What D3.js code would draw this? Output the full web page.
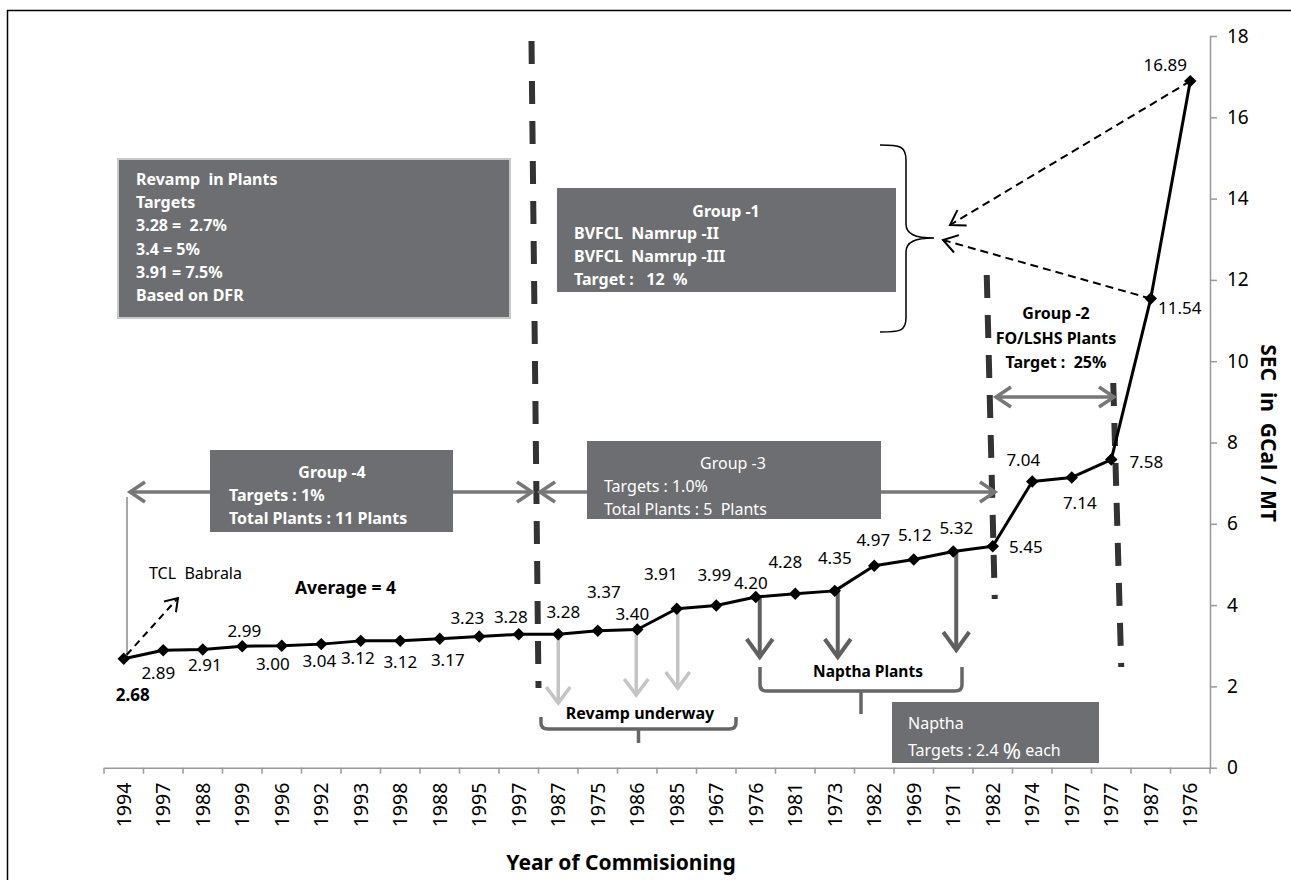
<!DOCTYPE html>
<head>
    <meta charset="utf-8">
    <title>SEC by Year of Commisioning</title>
    <script src="https://d3js.org/d3.v7.min.js"></script>
    <style>
        body { margin: 0; background: #fff; }
        text { font-family: 'Noto Sans', sans-serif; white-space: pre; }
    </style>
</head>
<body>
<script>
    // plants, ordered by SEC
    var years = ["1994", "1997", "1988", "1999", "1996", "1992", "1993", "1998", "1988", "1995",
        "1997", "1987", "1975", "1986", "1985", "1967", "1976", "1981", "1973", "1982",
        "1969", "1971", "1982", "1974", "1977", "1977", "1987", "1976"];
    var sec = [2.68, 2.89, 2.91, 2.99, 3.00, 3.04, 3.12, 3.12, 3.17, 3.23,
        3.28, 3.28, 3.37, 3.40, 3.91, 3.99, 4.20, 4.28, 4.35, 4.97,
        5.12, 5.32, 5.45, 7.04, 7.14, 7.58, 11.54, 16.89];
    var yTicks = [0, 2, 4, 6, 8, 10, 12, 14, 16, 18];

    // where each value label sits relative to its point (px)
    var labelOffsets = [[9, 36], [-5, 22], [2, 15], [2, -16], [-9, 18], [-2, 16], [-3, 17], [0, 21], [8, 21], [-12, -19],
        [-8, -18], [5, -23], [6, -39], [-5, -16], [-16, -35], [-2, -31], [-5, -14], [-10, -32], [0, -33], [-1, -26],
        [1, -25], [3, -24], [33, 0], [-9, -22], [8, 25], [35, 2], [29, 9], [-25, -17]];

    var width = 1291, height = 888;

    var svg = d3.select("body").append("svg")
        .attr("width", width)
        .attr("height", height);

    // frame (top + left edge)
    svg.append("path").attr("d", "M7.5,880 V10.5 H1291")
        .attr("fill", "none").attr("stroke", "#000").attr("stroke-width", 1.5);

    var x = d3.scaleBand().domain(d3.range(sec.length)).range([104, 1210]);
    var y = d3.scaleLinear().domain([0, 18]).range([767.7, 36]);
    var cx = function (i) { return x(i) + x.bandwidth() / 2; };

    // ---- axes ----
    var xAxis = svg.append("g").attr("transform", "translate(0," + y(0) + ")")
        .call(d3.axisBottom(x).tickSize(0).tickSizeOuter(0).tickFormat(function (i) { return years[i]; }));
    xAxis.select(".domain").attr("stroke", "#999").attr("stroke-width", 1.5);
    xAxis.selectAll("text")
        .attr("transform", "rotate(-90)")
        .attr("text-anchor", "end")
        .attr("x", -15).attr("y", 0).attr("dy", "0.35em")
        .attr("font-size", 19.5).attr("fill", "#000")
        .style("font-family", "'Noto Sans', sans-serif");
    xAxis.selectAll(".bound").data(d3.range(sec.length + 1)).enter().append("line")
        .attr("x1", function (k) { return x.range()[0] + k * x.step(); })
        .attr("x2", function (k) { return x.range()[0] + k * x.step(); })
        .attr("y1", 0).attr("y2", 6)
        .attr("stroke", "#999").attr("stroke-width", 1.5);

    var yAxis = svg.append("g").attr("transform", "translate(1210,0)")
        .call(d3.axisRight(y).tickValues(yTicks).tickSize(7).tickSizeOuter(0).tickPadding(10));
    yAxis.select(".domain").attr("stroke", "#999").attr("stroke-width", 1.5);
    yAxis.selectAll(".tick line").attr("stroke", "#999").attr("stroke-width", 1.5);
    yAxis.selectAll("text").attr("font-size", 19).attr("fill", "#000")
        .style("font-family", "'Noto Sans', sans-serif");

    svg.append("text").attr("x", 621).attr("y", 870).attr("text-anchor", "middle")
        .attr("font-size", 21).attr("font-weight", "bold").text("Year of Commisioning");
    svg.append("text").attr("transform", "translate(1261,433) rotate(90)").attr("text-anchor", "middle")
        .attr("font-size", 21).attr("font-weight", "bold").text("SEC  in  GCal / MT");

    // ---- helpers ----
    function head(g, tx, ty, ang, len, half, color, w) {
        var ca = Math.cos(ang), sa = Math.sin(ang);
        var bx = tx - len * ca, by = ty - len * sa;
        g.append("path")
            .attr("d", "M" + (bx - half * sa) + "," + (by + half * ca) + "L" + tx + "," + ty + "L" + (bx + half * sa) + "," + (by - half * ca))
            .attr("fill", "none").attr("stroke", color).attr("stroke-width", w)
            .attr("stroke-linejoin", "miter").attr("stroke-linecap", "butt");
    }

    function arrow(x1, y1, x2, y2, o) {
        var g = svg.append("g");
        g.append("line").attr("x1", x1).attr("y1", y1).attr("x2", x2).attr("y2", y2)
            .attr("stroke", o.color).attr("stroke-width", o.w)
            .attr("stroke-dasharray", o.dash || null);
        var a = Math.atan2(y2 - y1, x2 - x1);
        head(g, x2, y2, a, o.len, o.half, o.color, o.w);
        if (o.both) head(g, x1, y1, a + Math.PI, o.len, o.half, o.color, o.w);
        return g;
    }

    function box(x0, y0, w, h, stroke) {
        svg.append("rect").attr("x", x0).attr("y", y0).attr("width", w).attr("height", h)
            .attr("fill", "#6d6e71")
            .attr("stroke", stroke || "none").attr("stroke-width", 2);
    }

    function lines(x0, y0, step, arr, bold, anchor) {
        arr.forEach(function (t, k) {
            svg.append("text").attr("x", x0).attr("y", y0 + k * step)
                .attr("fill", "#fff").attr("font-size", 16)
                .attr("font-weight", bold ? "bold" : "normal")
                .attr("text-anchor", anchor || "start")
                .attr("dominant-baseline", "central").text(t);
        });
    }

    // ---- thick dashed separators ----
    var sepStyle = function (p) {
        p.attr("fill", "none").attr("stroke", "#333").attr("stroke-width", 6).attr("stroke-dasharray", "23,17");
    };
    svg.append("line").attr("x1", x(11) - 7).attr("y1", 41).attr("x2", x(11)).attr("y2", 688).call(sepStyle);
    svg.append("line").attr("x1", cx(22) - 6).attr("y1", 275).attr("x2", cx(22) + 2).attr("y2", 599).call(sepStyle);
    svg.append("line").attr("x1", cx(25) + 2).attr("y1", 383).attr("x2", cx(25) + 10).attr("y2", 667).call(sepStyle);

    // ---- group range arrows ----
    var grey = { color: "#777", w: 3.5, len: 15, half: 10, both: true };
    arrow(130, 492, 532, 492, grey);
    arrow(540, 492, 995, 492, grey);
    arrow(996, 397, 1114, 397, grey);

    // TCL Babrala marker
    svg.append("line").attr("x1", 127).attr("y1", 497).attr("x2", 127).attr("y2", y(sec[0]))
        .attr("stroke", "#777").attr("stroke-width", 1.3);
    arrow(cx(0) + 3, y(sec[0]) - 4, 178, 598, { color: "#000", w: 2, dash: "7,5", len: 12, half: 8 });

    // group -1 pointers
    arrow(cx(27), y(sec[27]), 950, 225, { color: "#000", w: 2, dash: "8,5", len: 14, half: 9 });
    arrow(cx(26), y(sec[26]), 943, 240, { color: "#000", w: 2, dash: "8,5", len: 14, half: 9 });

    // curly brace for group -1
    svg.append("path")
        .attr("d", "M880,145 C900,145 906,146 906,160 V224 C906,234 915,238 934,238 C915,238 906,242 906,252 V318 C906,331 900,332 880,332")
        .attr("fill", "none").attr("stroke", "#000").attr("stroke-width", 1.5);

    // revamp arrows (light) and naptha arrows (dark)
    var light = { color: "#c4c4c4", w: 3.5, len: 16, half: 12 };
    arrow(cx(11), y(sec[11]), cx(11), 703, light);
    arrow(cx(13) - 1, y(sec[13]), cx(13) - 1, 695, light);
    arrow(cx(14) + 1, y(sec[14]), cx(14) + 1, 688, light);
    var dark = { color: "#606060", w: 4, len: 18, half: 13 };
    arrow(cx(16) + 4, y(sec[16]), cx(16) + 4, 657, dark);
    arrow(cx(18) + 3, y(sec[18]), cx(18) + 3, 657, dark);
    arrow(cx(21) + 3, y(sec[21]), cx(21) + 3, 650, dark);

    // bottom braces
    function brace(x0, x1, yTop, yBot, yTip) {
        var m = (x0 + x1) / 2;
        svg.append("path")
            .attr("d", "M" + x0 + "," + yTop + " V" + (yBot - 6) + " Q" + x0 + "," + yBot + " " + (x0 + 7) + "," + yBot +
                " H" + (x1 - 7) + " Q" + x1 + "," + yBot + " " + x1 + "," + (yBot - 6) + " V" + yTop +
                " M" + m + "," + yBot + " V" + yTip)
            .attr("fill", "none").attr("stroke", "#666").attr("stroke-width", 3.5);
    }
    brace(541, 736, 717, 729, 743);
    brace(760, 962, 667, 691, 714);
    svg.append("text").attr("x", 640).attr("y", 713).attr("text-anchor", "middle").attr("dominant-baseline", "central")
        .attr("font-size", 16).attr("font-weight", "bold").text("Revamp underway");
    svg.append("text").attr("x", 868).attr("y", 671).attr("text-anchor", "middle").attr("dominant-baseline", "central")
        .attr("font-size", 15.5).attr("font-weight", "bold").text("Naptha Plants");

    // ---- boxes ----
    box(118, 159, 392, 159, "#c8c8c8");
    lines(136, 179, 23.2, ["Revamp  in Plants", "Targets", "3.28 =  2.7%", "3.4 = 5%", "3.91 = 7.5%", "Based on DFR"], true);

    box(557, 188, 339, 104);
    lines(726, 211, 0, ["Group -1"], true, "middle");
    lines(574, 233, 23, ["BVFCL  Namrup -II", "BVFCL  Namrup -III", "Target :   12  %"], true);

    box(210, 450, 243, 82);
    lines(332, 472, 0, ["Group -4"], true, "middle");
    lines(229, 495, 22.5, ["Targets : 1%", "Total Plants : 11 Plants"], true);

    box(587, 441, 294, 78);
    lines(733, 463, 0, ["Group -3"], false, "middle");
    lines(604, 486, 22.5, ["Targets : 1.0%", "Total Plants : 5  Plants"], false);

    box(892, 702, 207, 61);
    lines(908, 723, 0, ["Naptha"], false);
    var nt = svg.append("text").attr("x", 908).attr("y", 750).attr("fill", "#fff").attr("font-size", 16)
        .attr("dominant-baseline", "central");
    nt.append("tspan").text("Targets : 2.4 ");
    nt.append("tspan").attr("font-size", 22).text("%");
    nt.append("tspan").text(" each");

    // group -2 text
    ["Group -2", "FO/LSHS Plants", "Target :  25%"].forEach(function (t, k) {
        svg.append("text").attr("x", 1056).attr("y", 313 + k * 24.5).attr("text-anchor", "middle")
            .attr("dominant-baseline", "central").attr("font-size", 16).attr("font-weight", "bold").text(t);
    });

    svg.append("text").attr("x", 149).attr("y", 573).attr("dominant-baseline", "central")
        .attr("font-size", 16).text("TCL  Babrala");
    svg.append("text").attr("x", 295).attr("y", 587).attr("dominant-baseline", "central")
        .attr("font-size", 17.5).attr("font-weight", "bold").text("Average = 4");

    // ---- SEC line ----
    var line = d3.line().x(function (d, i) { return cx(i); }).y(function (d) { return y(d); });
    svg.append("path").datum(sec).attr("d", line)
        .attr("fill", "none").attr("stroke", "#000").attr("stroke-width", 3).attr("stroke-linejoin", "round");

    svg.selectAll(".pt").data(sec).enter().append("path")
        .attr("class", "pt")
        .attr("d", d3.symbol().type(d3.symbolSquare).size(78))
        .attr("transform", function (d, i) { return "translate(" + cx(i) + "," + y(d) + ") rotate(45)"; })
        .attr("fill", "#000");

    svg.selectAll(".lbl").data(sec).enter().append("text")
        .attr("class", "lbl")
        .attr("x", function (d, i) { return cx(i) + labelOffsets[i][0]; })
        .attr("y", function (d, i) { return y(d) + labelOffsets[i][1]; })
        .attr("text-anchor", "middle").attr("dominant-baseline", "central")
        .attr("font-size", 17)
        .attr("font-weight", function (d, i) { return i === 0 ? "bold" : "normal"; })
        .text(function (d) { return d.toFixed(2); });
</script>
</body>
</html>
